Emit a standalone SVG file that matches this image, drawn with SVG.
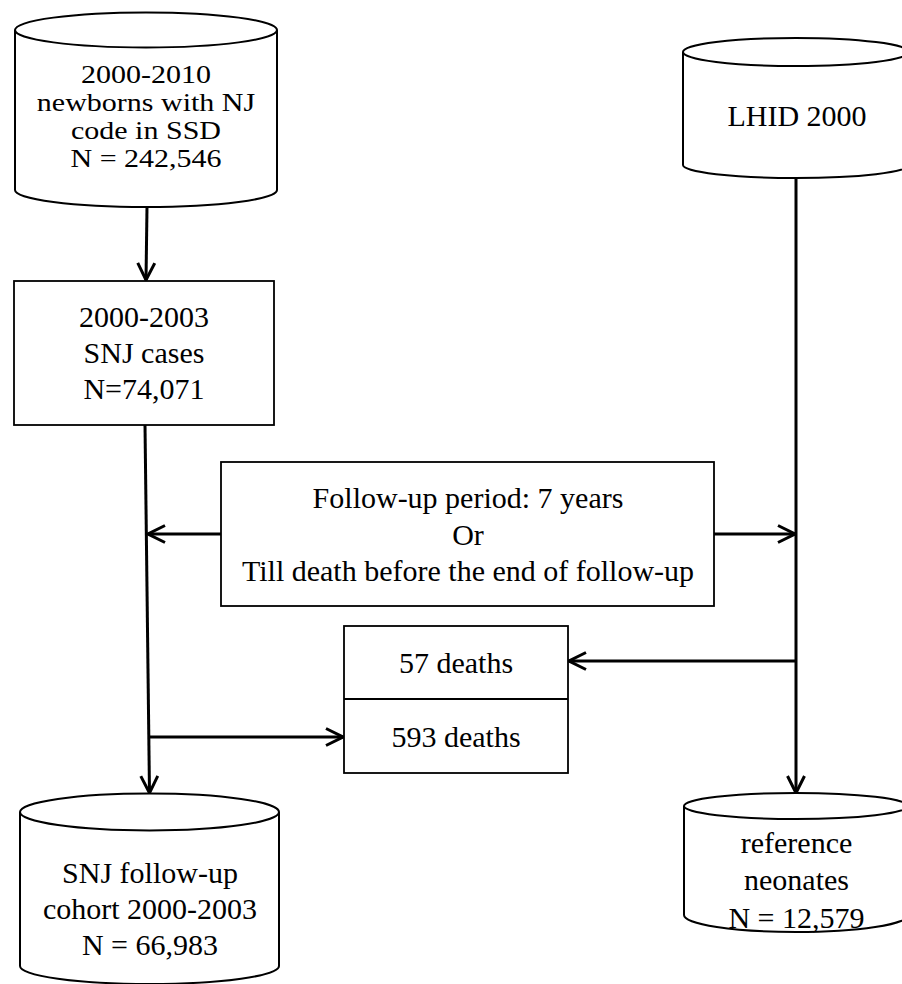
<svg xmlns="http://www.w3.org/2000/svg" width="902" height="984" viewBox="0 0 902 984">
<style>
  .shape { fill: #fff; stroke: #000; stroke-width: 2; }
  .box { fill: #fff; stroke: #000; stroke-width: 1.8; }
  .t { font-family: "Liberation Serif", "Times New Roman", serif; font-size: 30px; fill: #000; text-anchor: middle; }
  .ts { font-size: 25px; }
  .conn { fill: none; stroke: #000; stroke-width: 3; }
</style>
<defs>
  <marker id="arr" viewBox="0 0 20 20" refX="19" refY="10" markerWidth="20" markerHeight="20" markerUnits="userSpaceOnUse" orient="auto">
    <path d="M2,1.5 L19,10 L2,18.5" fill="none" stroke="#000" stroke-width="3"/>
  </marker>
</defs>
<rect width="902" height="984" fill="#fff"/>

<g id="connectors">
  <line class="conn" x1="147" y1="207" x2="146" y2="280" marker-end="url(#arr)"/>
  <line class="conn" x1="145" y1="425" x2="149.5" y2="793" marker-end="url(#arr)"/>
  <line class="conn" x1="221" y1="534" x2="148" y2="534" marker-end="url(#arr)"/>
  <line class="conn" x1="148" y1="737" x2="343" y2="737" marker-end="url(#arr)"/>
  <line class="conn" x1="796" y1="178" x2="796" y2="793" marker-end="url(#arr)"/>
  <line class="conn" x1="714" y1="534" x2="795" y2="534" marker-end="url(#arr)"/>
  <line class="conn" x1="796" y1="661" x2="569" y2="661" marker-end="url(#arr)"/>
</g>

<g id="newborns">
  <path class="shape" d="M15,30 L15,190 A131,17 0 0 0 277,190 L277,30"/>
  <ellipse class="shape" cx="146" cy="30" rx="131" ry="17.5"/>
  <g transform="translate(146,0) scale(1.2,1)">
    <text class="t ts" x="0" y="83.3">2000-2010</text>
    <text class="t ts" x="0" y="111.5">newborns with NJ</text>
    <text class="t ts" x="0" y="139.5">code in SSD</text>
    <text class="t ts" x="0" y="167.3">N = 242,546</text>
  </g>
</g>

<g id="snj-cases">
  <rect class="box" x="14" y="281" width="260" height="144"/>
  <text class="t" x="144" y="327">2000-2003</text>
  <text class="t" x="144" y="363">SNJ cases</text>
  <text class="t" x="144" y="399">N=74,071</text>
</g>

<g id="lhid">
  <path class="shape" d="M683,52 L683,165 A113,13 0 0 0 909,165 L909,52"/>
  <ellipse class="shape" cx="796" cy="52" rx="113" ry="14"/>
  <text class="t" x="797" y="126">LHID 2000</text>
</g>

<g id="followup">
  <rect class="box" x="221" y="462" width="493" height="144"/>
  <text class="t" x="468" y="508">Follow-up period: 7 years</text>
  <text class="t" x="468" y="545">Or</text>
  <text class="t" x="468" y="581">Till death before the end of follow-up</text>
</g>

<g id="deaths">
  <rect class="box" x="344" y="626" width="224" height="147"/>
  <line x1="344" y1="699" x2="568" y2="699" stroke="#000" stroke-width="1.8"/>
  <text class="t" x="456" y="673">57 deaths</text>
  <text class="t" x="456" y="747">593 deaths</text>
</g>

<g id="snj-cohort">
  <path class="shape" d="M20,812 L20,966 A129.5,18 0 0 0 279,966 L279,812"/>
  <ellipse class="shape" cx="149.5" cy="812" rx="129.5" ry="18.5"/>
  <text class="t" x="150" y="883">SNJ follow-up</text>
  <text class="t" x="150" y="919">cohort 2000-2003</text>
  <text class="t" x="150" y="955">N = 66,983</text>
</g>

<g id="reference">
  <path class="shape" d="M684,806 L684,915 A112,17 0 0 0 908,915 L908,806"/>
  <ellipse class="shape" cx="796" cy="806" rx="112" ry="13"/>
  <text class="t" x="796.5" y="853">reference</text>
  <text class="t" x="796.5" y="890">neonates</text>
  <text class="t" x="796.5" y="928">N = 12,579</text>
</g>
</svg>
